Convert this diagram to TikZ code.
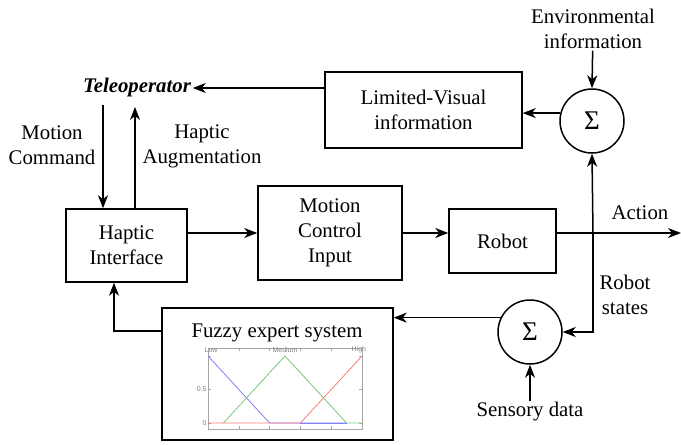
\documentclass[tikz,border=0pt]{standalone}
\usepackage{fontspec}
\setmainfont{Liberation Serif}
\newfontfamily\plotfont{Liberation Sans}
\usetikzlibrary{arrows.meta,positioning}
\definecolor{lowcol}{RGB}{128,128,255}
\definecolor{medcol}{RGB}{120,200,120}
\definecolor{highcol}{RGB}{255,120,120}
\tikzset{
    block/.style={draw, line width=1.5pt, align=center, inner sep=2pt},
    summer/.style={draw, circle, line width=1.5pt, minimum size=64pt, inner sep=0pt,
        font=\fontsize{27}{30}\selectfont},
    lbl/.style={align=center, inner sep=1pt},
}
\begin{document}
\begin{tikzpicture}[x=1pt, y=-1pt, >={Stealth[length=13pt, width=10pt, inset=4pt]}, line width=1.5pt,
    font=\fontsize{20.8}{25}\selectfont]
    \useasboundingbox (0,0) rectangle (681,445);

    % Blocks
    \node[block, minimum width=121pt, minimum height=73pt] (hi) at (126.5,245.5) {Haptic\\Interface};
    \node[block, minimum width=144pt, minimum height=94pt] (mci) at (330,233) {Motion\\Control\\Input};
    \node[block, minimum width=107pt, minimum height=64pt] (robot) at (502.5,241) {Robot};
    \node[block, minimum width=197pt, minimum height=76pt] (lvi) at (423.5,110) {Limited-Visual\\information};
    \node[block, minimum width=231pt, minimum height=132pt] (fes) at (277.5,374) {};
    \node[lbl] (fesl) at (277,333) {Fuzzy expert system};

    % Summing junctions
    \node[summer] (sumA) at (592,121) {Σ};
    \node[summer] (sumB) at (530,332) {Σ};

    % Texts
    \node[lbl] (tele) at (137,87) {\textbf{\textit{Teleoperator}}};
    \node[lbl] (mc) at (52,145) {Motion\\Command};
    \node[lbl] (ha) at (202,146) {Haptic\\Augmentation};
    \node[lbl] (env) at (593,29) {Environmental\\information};
    \node[lbl] (sens) at (530,412) {Sensory data};
    \node[lbl] (act) at (640,213) {Action};
    \node[lbl] (rs) at (625,295) {Robot\\states};

    % Free ends
    \coordinate (mctop) at (103,105);
    \coordinate (hatop) at (135,107);
    \coordinate (actend) at (681,233);
    \coordinate (junc) at (593,233);

    % Connectors
    \draw[->] (lvi.west |- 0,88) -- (tele.east |- 0,88);
    \draw[->] (mctop) -- (mctop |- hi.north);
    \draw[->] (hatop |- hi.north) -- (hatop);
    \draw[->] (hi.east |- mci.west) -- (mci.west);
    \draw[->] (mci.east) -- (mci.east -| robot.west);
    \draw[->] (robot.east |- actend) -- (actend);
    \draw[->] (env) -- (sumA.north);
    \draw[->] (sumA.166) -- (sumA.166 -| lvi.east);
    \draw[->] (junc) -- (sumA.south);
    \draw[->] (junc) |- (sumB.east);
    \draw[->] (sens) -- (sumB.south);
    \draw[->] (sumB.154) -- (sumB.154 -| fes.east);
    \draw[->] ([yshift=43pt]fes.west) -| ([xshift=-12.5pt]hi.south);

    % Membership functions plot
    \begin{scope}[shift={(208,423)}, x=154pt, y=67pt, line width=0.8pt, font=\plotfont\fontsize{7}{8}\selectfont]
        \draw[gray!70, line width=0.6pt] (0,-0.09) rectangle (1,1.12);
        \foreach \t in {0.2,0.4,0.6,0.8} {
            \draw[gray!70, line width=0.6pt] (\t,-0.09) -- (\t,-0.04);
            \draw[gray!70, line width=0.6pt] (\t,1.12) -- (\t,1.07);
        }
        \foreach \t in {0,0.5,1} {
            \draw[gray!70, line width=0.6pt] (0,\t) -- (0.02,\t);
            \draw[gray!70, line width=0.6pt] (1,\t) -- (0.98,\t);
        }
        \node[gray, left, inner sep=1pt] (tk5) at (0,0.5) {0.5};
        \node[gray, left, inner sep=1pt] (tk0) at (0,0) {0};
        \draw[lowcol] (0,1) -- (0.4,0) -- (0.9,0);
        \draw[highcol] (0,0) -- (0.6,0) -- (1,1);
        \draw[medcol] (0.1,0) -- (0.5,1) -- (0.9,0) -- (1,0);
        \draw[lowcol] (0.6,0) -- (0.9,0);
        \node[gray, inner sep=0pt] (mlow) at (0.02,1.09) {Low};
        \node[gray, inner sep=0pt] (mmed) at (0.5,1.09) {Medium};
        \node[gray, inner sep=0pt] (mhigh) at (0.98,1.09) {High};
    \end{scope}
\end{tikzpicture}
\end{document}
